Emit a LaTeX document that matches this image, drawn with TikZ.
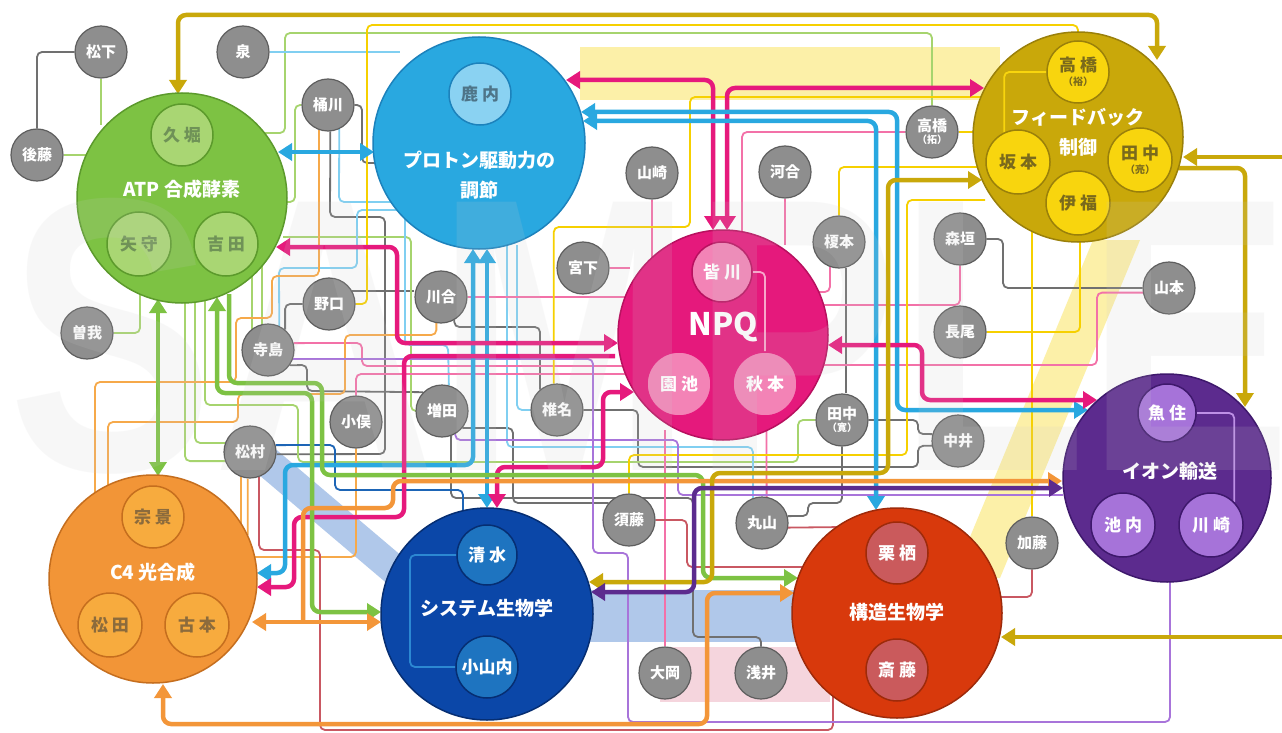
\documentclass[tikz,border=0pt]{standalone}
\usepackage{fontspec}
\usepackage{graphicx}
\newfontfamily\jp{Noto Sans CJK JP}
\newfontfamily\wmfont{Liberation Sans}
\usetikzlibrary{arrows.meta}
\pgfdeclarelayer{bg}\pgfdeclarelayer{lines}\pgfdeclarelayer{thick}\pgfdeclarelayer{inner}\pgfdeclarelayer{top}\pgfdeclarelayer{wm}
\pgfsetlayers{bg,lines,thick,main,inner,top,wm}
\definecolor{atpF}{HTML}{7DC243}\definecolor{atpD}{HTML}{5C9A2C}\definecolor{atpM}{HTML}{A9D673}\definecolor{atpT}{HTML}{6F9257}
\definecolor{protF}{HTML}{29A8E0}\definecolor{protD}{HTML}{1C82BC}\definecolor{protM}{HTML}{8AD2F2}\definecolor{protT}{HTML}{4E7488}
\definecolor{npqF}{HTML}{E5197C}\definecolor{npqD}{HTML}{B8105F}\definecolor{npqM}{HTML}{F383B6}
\definecolor{fbF}{HTML}{C9A80A}\definecolor{fbD}{HTML}{9A800A}\definecolor{fbM}{HTML}{F8D50E}\definecolor{fbT}{HTML}{7A6A1C}
\definecolor{ionF}{HTML}{5C2B8E}\definecolor{ionD}{HTML}{3E186C}\definecolor{ionM}{HTML}{A673D9}
\definecolor{strF}{HTML}{D8390C}\definecolor{strD}{HTML}{9E2A0A}\definecolor{strM}{HTML}{CA5A5C}
\definecolor{sysF}{HTML}{0B47A8}\definecolor{sysD}{HTML}{062E72}\definecolor{sysM}{HTML}{1E74C0}
\definecolor{c4F}{HTML}{F29537}\definecolor{c4D}{HTML}{C56E1E}\definecolor{c4M}{HTML}{F7AB3E}\definecolor{c4T}{HTML}{8C6B3C}
\definecolor{persF}{HTML}{8E8E8E}\definecolor{persD}{HTML}{5E5E5E}
\definecolor{tgreen}{HTML}{A6D46E}\definecolor{tblue}{HTML}{80CFF1}\definecolor{tgray}{HTML}{707070}
\definecolor{tpink}{HTML}{F371A8}\definecolor{tyellow}{HTML}{F6D000}\definecolor{torange}{HTML}{F6A94A}
\definecolor{tpurple}{HTML}{A874DA}\definecolor{tred}{HTML}{C95862}\definecolor{tdblue}{HTML}{1D65B6}
\definecolor{cGold}{HTML}{C9A80A}\definecolor{cBlue}{HTML}{29A8E0}\definecolor{cPink}{HTML}{E6197C}
\definecolor{cGreen}{HTML}{7DC243}\definecolor{cOrange}{HTML}{F39639}\definecolor{cPurple}{HTML}{5C2B8E}
\definecolor{npqL}{HTML}{F7A6CA}\definecolor{ionL}{HTML}{BE90E6}\definecolor{fbL}{HTML}{F8D50E}\definecolor{sysL}{HTML}{2C88D2}
\definecolor{yelBand}{HTML}{FCF0A8}\definecolor{bluBand}{HTML}{B0C8EA}\definecolor{pinkBand}{HTML}{F5D5DD}
\newcommand{\gp}{\kern4pt}
\begin{document}
\begin{tikzpicture}[x=1pt,y=-1pt,
  grp/.style 2 args={circle, fill=#1, draw=#2, line width=1.5pt, minimum size=210pt, inner sep=0pt},
  ttl/.style={text=white, font=\jp\bfseries\fontsize{19}{30}\selectfont, align=center, inner sep=0pt},
  mem/.style n args={3}{circle, fill=#1, draw=#2, line width=1.5pt, minimum size=62pt, inner sep=0pt, text=#3, font=\jp\bfseries\fontsize{17}{17}\selectfont, align=center},
  pers/.style={circle, fill=persF, draw=persD, line width=1.2pt, minimum size=52pt, inner sep=0pt, text=white, font=\jp\bfseries\fontsize{15}{15}\selectfont, align=center},
  tl/.style={draw=#1, line width=1.8pt, rounded corners=5pt},
  tk/.style={draw=#1, line width=4.5pt, rounded corners=8pt},
  ah/.style={-{Triangle[width=17pt,length=14pt]}},
  ah2/.style={{Triangle[width=17pt,length=14pt]}-{Triangle[width=17pt,length=14pt]}}
]
\useasboundingbox (0,0) rectangle (1282,733);
\begin{pgfonlayer}{bg}
\fill[white] (0,0) rectangle (1282,733);
\fill[yelBand] (580,47) rectangle (1000,100);
\fill[yelBand] (1093,240) -- (1140,240) -- (1000,578) -- (953,578) -- cycle;
\fill[bluBand] (272,446) -- (410,563) -- (390,586) -- (252,469) -- cycle;
\fill[bluBand] (590,590) rectangle (800,642);
\fill[pinkBand] (660,647) rectangle (830,702);
\end{pgfonlayer}

% main circles
\node[grp={atpF}{atpD}] (atp) at (182,198) {};
\node[ttl] (atpT) at (182,189) {ATP 合成酵素};
\node[grp={protF}{protD}, minimum size=212pt] (prot) at (479,143) {};
\node[ttl] (protT) at (479,175) {プロトン駆動力の\\調節};
\node[grp={npqF}{npqD}] (npq) at (723,335) {};
\node[ttl, font=\jp\bfseries\fontsize{31}{31}\selectfont] (npqT) at (723,327) {NPQ};
\node[grp={fbF}{fbD}] (fb) at (1078,137) {};
\node[ttl] (fbT) at (1078,132) {フィードバック\\制御};
\node[grp={ionF}{ionD}, minimum size=208pt] (ion) at (1167,478) {};
\node[ttl] (ionT) at (1170,471) {イオン輸送};
\node[grp={strF}{strD}] (str) at (897,613) {};
\node[ttl] (strT) at (897,612) {構造生物学};
\node[grp={sysF}{sysD}, minimum size=212pt] (sys) at (487,614) {};
\node[ttl] (sysT) at (487,608) {システム生物学};
\node[grp={c4F}{c4D}, minimum size=208pt] (c4) at (153,579) {};
\node[ttl] (c4T) at (153,572) {C4 光合成};

% persons
\node[pers] (matsushita) at (101,52) {松下};
\node[pers] (goto) at (37,155) {後藤};
\node[pers] (izumi) at (243,52) {泉};
\node[pers] (okegawa) at (328,105) {桶川};
\node[pers] (soga) at (87,333) {曽我};
\node[pers] (noguchi) at (329,304) {野口};
\node[pers] (kawai) at (441,297) {川合};
\node[pers] (terashima) at (268,350) {寺島};
\node[pers] (komata) at (356,422) {小俣};
\node[pers] (matsumura) at (250,452) {松村};
\node[pers] (masuda) at (442,411) {増田};
\node[pers] (shiina) at (557,410) {椎名};
\node[pers] (miyashita) at (583,268) {宮下};
\node[pers] (yamazaki) at (652,173) {山崎};
\node[pers] (kawaigo) at (785,172) {河合};
\node[pers] (enomoto) at (839,242) {榎本};
\node[pers] (takahashiT) at (932,132) {高橋\\[-3pt]{\fontsize{10}{10}\selectfont（拓）}};
\node[pers] (morigaki) at (960,239) {森垣};
\node[pers] (yamamoto) at (1169,288) {山本};
\node[pers] (nagao) at (960,332) {長尾};
\node[pers] (tanakah) at (842,420) {田中\\[-3pt]{\fontsize{10}{10}\selectfont（寛）}};
\node[pers] (nakai) at (958,441) {中井};
\node[pers] (sutou) at (629,520) {須藤};
\node[pers] (maruyama) at (762,523) {丸山};
\node[pers] (katou) at (1032,543) {加藤};
\node[pers] (ooka) at (665,673) {大岡};
\node[pers] (asai) at (761,673) {浅井};

% members
\begin{pgfonlayer}{top}
\node[mem={atpM}{atpD}{atpT}] (kubori) at (182,135) {久\gp 堀};
\node[mem={atpM}{atpD}{atpT}, minimum size=64pt] (yamori) at (139,244) {矢\gp 守};
\node[mem={atpM}{atpD}{atpT}, minimum size=64pt] (yoshida) at (226,244) {吉\gp 田};
\node[mem={protM}{protD}{protT}] (shikauchi) at (480,94) {鹿\gp 内};
\node[mem={npqM}{npqD}{white}, minimum size=60pt] (minagawa) at (722,272) {皆\gp 川};
\node[mem={npqM}{npqF}{white}, minimum size=64pt] (sonoike) at (679,384) {園\gp 池};
\node[mem={npqM}{npqF}{white}, minimum size=64pt] (akimoto) at (765,384) {秋\gp 本};
\node[mem={fbM}{fbD}{fbT}] (takahashiY) at (1078,72) {高\gp 橋\\[-3pt]{\fontsize{10}{10}\selectfont（裕）}};
\node[mem={fbM}{fbD}{fbT}, minimum size=64pt] (sakamoto) at (1018,162) {坂\gp 本};
\node[mem={fbM}{fbD}{fbT}, minimum size=64pt] (tanakaR) at (1140,160) {田\gp 中\\[-3pt]{\fontsize{10}{10}\selectfont（亮）}};
\node[mem={fbM}{fbD}{fbT}, minimum size=64pt] (ifuku) at (1078,203) {伊\gp 福};
\node[mem={ionM}{ionD}{white}, minimum size=58pt] (uozumi) at (1167,413) {魚\gp 住};
\node[mem={ionM}{ionD}{white}, minimum size=64pt] (ikeuchi) at (1123,525) {池\gp 内};
\node[mem={ionM}{ionD}{white}, minimum size=64pt] (kawasaki) at (1211,525) {川\gp 崎};
\node[mem={strM}{strD}{white}] (kurisu) at (897,553) {栗\gp 栖};
\node[mem={strM}{strD}{white}] (saitou) at (897,670) {斎\gp 藤};
\node[mem={sysM}{sysD}{white}, minimum size=60pt] (shimizu) at (487,555) {清\gp 水};
\node[mem={sysM}{sysD}{white}] (oyamauchi) at (487,667) {小山内};
\node[mem={c4M}{c4D}{c4T}] (munekage) at (153,517) {宗\gp 景};
\node[mem={c4M}{c4D}{c4T}, minimum size=64pt] (matsuda) at (110,625) {松\gp 田};
\node[mem={c4M}{c4D}{c4T}, minimum size=64pt] (furumoto) at (197,625) {古\gp 本};
\end{pgfonlayer}

% inner links
\begin{pgfonlayer}{inner}
\draw[tl=npqL] (minagawa.east) -| (akimoto.north);
\draw[tl=ionL] (uozumi.east) -| (kawasaki.45);
\draw[tl=fbL] (takahashiY.west) -| (sakamoto.115);
\draw[tl=sysL] (shimizu.west) -- (410,555) -- (410,667) -- (oyamauchi.west);
\end{pgfonlayer}

% thin connectors
\begin{pgfonlayer}{lines}
% gray
\draw[tl=tgray] (matsushita.west) -| (goto.north);
\draw[tl=tgray] (okegawa.east) -- (362,105) -- (362,163) -- (385,163);
\draw[tl=tgray] (okegawa.-85) -- (330,217) -- (385,217) -- (385,454) -- (matsumura.-5);
\draw[tl=tgray] (noguchi.30) -- (kawai.west |- noguchi.30);
\draw[tl=tgray] (noguchi.west) -| (terashima.50);
\draw[tl=tgray] (kawai.-60) |- (540,327) -- (shiina.130);
\draw[tl=tgray] (terashima.-35) -- (307,365) -- (307,391) -- (masuda.135);
\draw[tl=tgray] (masuda.-40) -- (513,428) -- (513,503) -- (sutou.140);
\draw[tl=tgray] (shiina.east) -- (638,410) -- (638,467) -- (918,467) -- (918,446) -- (nakai.190);
\draw[tl=tgray] (nakai.165) -- (918,434) -- (918,420) -- (tanakah.east);
\draw[tl=tgray] (maruyama.15) -- (808,516) -- (808,503) -- (842,503) -- (tanakah.south);
\draw[tl=tgray] (morigaki.east) -- (1003,239) -- (1003,288) -- (yamamoto.west);
\draw[tl=tgray] (enomoto.-75) -- (enomoto.-75 |- tanakah.north);
\draw[tl=tgray] (asai.north) -- (761,637) -- (693,637) -- (693,498) -- (451,498) -- (masuda.-70);
% light green
\draw[tl=tgreen] (matsushita.south) -- (101,125);
\draw[tl=tgreen] (goto.east) -- (95,155);
\draw[tl=tgreen] (soga.east) -| (140,285);
\draw[tl=tgreen] (265,133) -- (285,133) -- (285,33) -- (932,33) -- (takahashiT.north);
\draw[tl=tgreen] (280,202) -- (295,202) -- (295,105) -- (okegawa.west);
\draw[tl=tgreen] (283,237) -- (411,237) -- (411,411) -- (masuda.west);
\draw[tl=tgreen] (252,268) -- (252,330);
\draw[tl=tgreen] (262,262) -- (262,328);
\draw[tl=tgreen] (205,300) -- (205,405) -- (298,405) -- (298,462) -- (798,462) -- (798,420) -- (tanakah.west);
\draw[tl=tgreen] (195,300) |- (matsumura.160);
\draw[tl=tgreen] (185,300) |- (matsumura.200);
% light blue
\draw[tl=tblue] (izumi.east) -- (400,52);
\draw[tl=tblue] (okegawa.-65) -- (339,202) -- (395,202);
\draw[tl=tblue] (terashima.65) -- (279,268) -- (357,268) -- (357,210) -- (405,210);
\draw[tl=tblue] (405,215) -- (405,345) -- (448,345) -- (masuda.75);
\draw[tl=tblue] (507,245) -- (507,447) -| (maruyama.110);
\draw[tl=tblue] (517,245) |- (shiina.west);
% pink
\draw[tl=tpink] (yamazaki.south) -- (652,262);
\draw[tl=tpink] (miyashita.east) -- (630,268);
\draw[tl=tpink] (kawaigo.south) -- (785,245);
\draw[tl=tpink] (enomoto.-110) |- (815,292);
\draw[tl=tpink] (morigaki.south) |- (815,305);
\draw[tl=tpink] (takahashiT.west) -| (742,240);
\draw[tl=tpink] (yamamoto.190) -| (1097,365) -- (815,365);
\draw[tl=tpink] (kawai.east) -- (625,297);
\draw[tl=tpink] (terashima.15) -- (362,343) -- (362,366) -- (625,366);
\draw[tl=tpink] (komata.north) |- (625,374);
\draw[tl=tpink] (maruyama.80) -- (766.5,430);
\draw[tl=tpink] (ooka.north) -- (665,430);
% yellow
\draw[tl=tyellow] (noguchi.east) -- (367,304) -- (367,25) -- (1078,25) -- (1078,40);
\draw[tl=tyellow] (shiina.97) |- (690,227) -- (690,97) -- (985,97);
\draw[tl=tyellow] (nagao.east) -| (1080,235);
\draw[tl=tyellow] (katou.north) -- (1032,230);
\draw[tl=tyellow] (takahashiT.east) -- (980,132);
\draw[tl=tyellow] (sutou.north) |- (907,455) -- (907,200) -- (985,200);
\draw[tl=tyellow] (enomoto.north) |- (985,167);
% orange
\draw[tl=torange] (komata.south) |- (255,557);
\draw[tl=torange] (matsumura.-110) -- (241,530);
\draw[tl=torange] (matsumura.-95) -- (247.7,535);
\draw[tl=torange] (95,495) -- (95,382) -- (236,382) -- (236,318) -- (272,318) -- (272,276) -| (okegawa.-110);
\draw[tl=torange] (108,500) -- (108,422) -- (238,422) -- (238,394) -- (345,394) -- (345,335) -| (kawai.-100);
% dark red
\draw[tl=tred] (matsumura.-70) -- (259,550) -- (320,550) -- (320,730) -- (833,730) -- (833,690);
\draw[tl=tred] (sutou.east) -- (687,520) -- (687,567) -- (808,567);
\draw[tl=tred] (maruyama.-10) -- (845,527);
\draw[tl=tred] (katou.south) |- (995,597);
% purple
\draw[tl=tpurple] (terashima.-20) -- (593,359) -- (593,553) -- (628,553) -- (628,722) -- (1170,722) -- (1170,580);
\draw[tl=tpurple] (masuda.-60) |- (678,440) -- (678,495) -- (1063,495);
% dark blue
\draw[tl=tdblue] (matsumura.15) -- (335,445) -- (335,490) -- (463,490) -- (463,512);
\end{pgfonlayer}

% thick arrows
\begin{pgfonlayer}{thick}
\draw[tk=cGold, ah2] (178,94) -- (178,15) -- (1157,15) -- (1157,60);
\draw[tk=cGold, ah] (1282,157) -- (1183,157);
\draw[tk=cGold, ah] (1177,168) -- (1245,168) -- (1245,407);
\draw[tk=cGold, ah] (1282,637) -- (1001,637);
\draw[tk=cBlue, ah2] (278,152) -- (374,152);
\draw[tk=cPink, ah2] (566,80) -- (713,80) -- (713,230);
\draw[tk=cPink, ah2] (727,230) -- (727,88) -- (984,88);
\draw[tk=cBlue, ah2] (581,112) -- (897,112) -- (897,410) -- (1088,410);
\draw[tk=cBlue, ah2] (583,121) -- (876,121) -- (876,510);
\draw[tk=cBlue, ah2] (487,249) -- (487,508);
\draw[tk=cBlue, ah2] (473,249) -- (473,465) -- (285,465) -- (285,573) -- (257,573);
\draw[tk=cPink, ah2] (276,247) -- (397,247) -- (397,343) -- (618,343);
\draw[tk=cPink, ah] (615,356) -- (404,356) -- (404,517) -- (294,517) -- (294,587) -- (257,587);
\draw[tk=cPink, ah2] (497,508) -- (497,467) -- (603,467) -- (603,392) -- (634,392);
\draw[tk=cPink, ah2] (828,345) -- (922,345) -- (922,400) -- (1097,400);
\draw[tk=cGreen, ah2] (158,299) -- (158,476);
\draw[tk=cGreen, ah2] (217,297) -- (217,393) -- (312,393) -- (312,612) -- (381,612);
\draw[tk=cGreen, ah] (229,294) -- (229,383) -- (322,383) -- (322,475) -- (703,475) -- (703,578) -- (798,578);
\draw[tk=cOrange, ah2] (252,622) -- (381,622);
\draw[tk=cOrange, ah] (303,622) -- (303,508) -- (393,508) -- (393,481) -- (1062,481);
\draw[tk=cOrange, ah2] (163,684) -- (163,724) -- (707,724) -- (707,593) -- (794,593);
\draw[tk=cGold, ah2] (589,582) -- (712,582) -- (712,473) -- (888,473) -- (888,180) -- (982,180);
\draw[tk=cPurple, ah2] (591,592) -- (694,592) -- (694,488) -- (1063,488);
\end{pgfonlayer}

% watermark
\begin{pgfonlayer}{wm}
\node[anchor=base west, inner sep=0pt, text=black!20, opacity=0.14, font=\wmfont\bfseries\fontsize{390}{390}\selectfont] (wmark) at (8,470) {\scalebox{0.79}[1]{SAMPLE}};
\end{pgfonlayer}
\end{tikzpicture}
\end{document}
